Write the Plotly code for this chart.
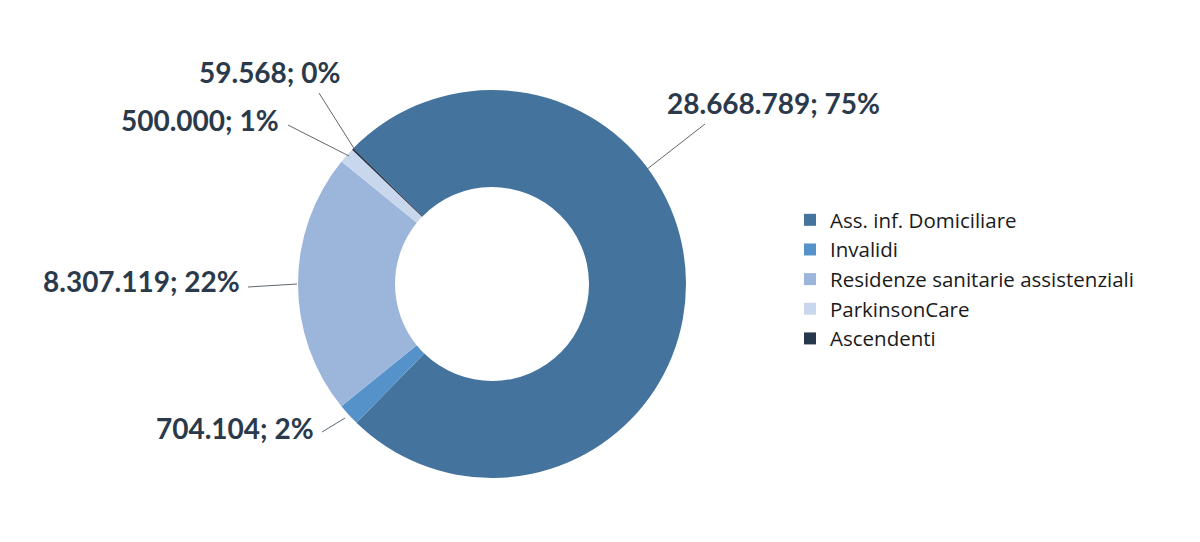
import plotly.graph_objects as go

categories = ["Ass. inf. Domiciliare", "Invalidi", "Residenze sanitarie assistenziali", "ParkinsonCare", "Ascendenti"]
values = [28668789, 704104, 8307119, 500000, 59568]
colors = ["#44739E", "#5592CA", "#9BB5DB", "#C9D7EC", "#28384C"]

W, H = 1200, 542
# label text centre (px) and leader line start/end (px) -- layout only
label_pos = [(773, 103), (235, 428), (141, 281), (200, 120), (269, 72)]
leader = [((705, 124), (646, 170)), ((322, 432), (345, 418)), ((248, 287), (297, 284)),
          ((288, 125), (349, 156)), ((319, 93), (355, 150))]

total = sum(values)

def fmt_int(v):
    return f"{v:,}".replace(",", ".")

texts = [f"{fmt_int(v)}; {round(100 * v / total):.0f}%" for v in values]

cx, cy, R = 492, 284, 194
fig = go.Figure(go.Pie(
    labels=categories, values=values, sort=False, direction="clockwise",
    rotation=314.4, hole=0.5, textinfo="none", hoverinfo="label+value+percent",
    marker=dict(colors=colors, line=dict(width=0)),
    domain=dict(x=[(cx - R) / W, (cx + R) / W], y=[1 - (cy + R) / H, 1 - (cy - R) / H]),
))

annotations = []
for t, (px, py) in zip(texts, label_pos):
    annotations.append(dict(text=t, x=px / W, y=1 - py / H, xref="paper", yref="paper",
                            showarrow=False, xanchor="center", yanchor="middle",
                            font=dict(family="Lato", size=28, color="#2B3A4B", weight="bold")))
shapes = []
for (x0, y0), (x1, y1) in leader:
    shapes.append(dict(type="line", xref="paper", yref="paper",
                       x0=x0 / W, y0=1 - y0 / H, x1=x1 / W, y1=1 - y1 / H,
                       line=dict(color="#5F6770", width=1)))

fig.update_layout(
    width=W, height=H, margin=dict(l=0, r=0, t=0, b=0),
    paper_bgcolor="white", plot_bgcolor="white",
    annotations=annotations, shapes=shapes,
    showlegend=True,
    legend=dict(x=790 / W, y=1 - 200 / H, xanchor="left", yanchor="top",
                font=dict(family="Open Sans", size=20.5, color="#1A1A1A"),
                itemwidth=30, tracegroupgap=0),
    font=dict(family="Lato"),
)
fig.write_html("out.html", config={"displayModeBar": False},
               post_script="document.body.style.margin='0';document.body.style.padding='0';")
